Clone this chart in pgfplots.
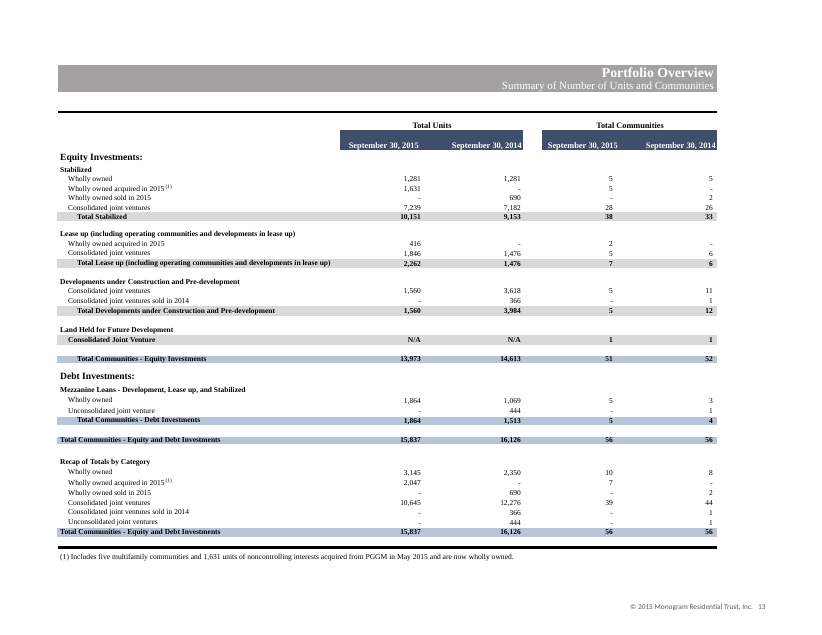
\documentclass[border=0pt]{standalone}
\usepackage{pgfplots}
\pgfplotsset{compat=1.18}
\usepackage{pgfplotstable}
\usepackage{fontspec}
\setmainfont{Liberation Serif}
\newfontfamily\carlito{Carlito}
\definecolor{titlegray}{HTML}{A3A1A1}
\definecolor{hdrblue}{HTML}{3E4E6B}
\definecolor{bandgray}{HTML}{D9D9D9}
\definecolor{bandblue}{HTML}{B6C5D8}
\definecolor{footgray}{HTML}{595959}

% ---- row labels (x = left edge, y = row centre, in pixels from the top) ----
\pgfplotstableread{
x y label
68 179 {Wholly owned}
68 189 {Wholly owned acquired in 2015\,\textsuperscript{(1)}}
68 198 {Wholly owned sold in 2015}
68 208 {Consolidated joint ventures}
68 244 {Wholly owned acquired in 2015}
68 253.7 {Consolidated joint ventures}
68 291 {Consolidated joint ventures}
68 301 {Consolidated joint ventures sold in 2014}
68 400.7 {Wholly owned}
68 411 {Unconsolidated joint venture}
68 472.7 {Wholly owned}
68 483.3 {Wholly owned acquired in 2015\,\textsuperscript{(1)}}
68 493.3 {Wholly owned sold in 2015}
68 503 {Consolidated joint ventures}
68 512.7 {Consolidated joint ventures sold in 2014}
68 522.7 {Unconsolidated joint ventures}
}\labreg
\pgfplotstableread{
x y label
60 170 {Stabilized}
60 234 {Lease up (including operating communities and developments in lease up)}
60 282 {Developments under Construction and Pre-development}
60 330 {Land Held for Future Development}
60 390 {Mezzanine Loans - Development, Lease up, and Stabilized}
60 440 {Total Communities - Equity and Debt Investments}
60 462.7 {Recap of Totals by Category}
60 532.3 {Total Communities - Equity and Debt Investments}
68 340 {Consolidated Joint Venture}
77 217 {Total Stabilized}
77 263.7 {Total Lease up (including operating communities and developments in lease up)}
77 311 {Total Developments under Construction and Pre-development}
77 359 {Total Communities - Equity Investments}
77 420.7 {Total Communities - Debt Investments}
}\labbold
\pgfplotstableread{
x y label
60 158 {Equity Investments:}
60 377.7 {Debt Investments:}
}\labbig

% ---- values: units 2015, units 2014, communities 2015, communities 2014 ----
\pgfplotstableread{
y u15 u14 c15 c14
179 1,281 1,281 5 5
189 1,631 - 5 -
198 - 690 - 2
208 7,239 7,182 28 26
244 416 - 2 -
253.7 1,846 1,476 5 6
291 1,560 3,618 5 11
301 - 366 - 1
400.7 1,864 1,069 5 3
411 - 444 - 1
472.7 3,145 2,350 10 8
483.3 2,047 - 7 -
493.3 - 690 - 2
503 10,645 12,276 39 44
512.7 - 366 - 1
522.7 - 444 - 1
}\valreg
\pgfplotstableread{
y u15 u14 c15 c14
217 10,151 9,153 38 33
263.7 2,262 1,476 7 6
311 1,560 3,984 5 12
340 N/A N/A 1 1
359 13,973 14,613 51 52
420.7 1,864 1,513 5 4
440 15,837 16,126 56 56
532.3 15,837 16,126 56 56
}\valbold

\pgfplotsset{
  txtl/.style={only marks, mark=none, point meta=explicit symbolic,
    nodes near coords={\pgfplotspointmeta},
    every node near coord/.append style={anchor=base west, inner sep=0pt, yshift=-2.1bp, text=black, font=#1}},
  txtr/.style={only marks, mark=none, point meta=explicit symbolic,
    nodes near coords={\pgfplotspointmeta},
    every node near coord/.append style={anchor=base east, inner sep=0pt, yshift=-2.4bp, text=black, font=#1}},
  box/.style={draw=none, fill=#1, mark=none},
}

\begin{document}
\begin{tikzpicture}
\begin{axis}[
  scale only axis, width=822bp, height=635bp,
  xmin=0, xmax=822, ymin=0, ymax=635, y dir=reverse,
  enlargelimits=false, hide axis, clip=false,
]
% background and shaded bands
\addplot[box=white] coordinates {(0,0) (822,0) (822,635) (0,635)};
\addplot[box=titlegray] coordinates {(58,65) (717,65) (717,92) (58,92)};
\addplot[box=hdrblue] coordinates {(340,130) (523,130) (523,150) (340,150)};
\addplot[box=hdrblue] coordinates {(542,130) (717,130) (717,150) (542,150)};
\addplot[box=bandgray] coordinates {(57,212.3) (717,212.3) (717,221.3) (57,221.3)};
\addplot[box=bandgray] coordinates {(57,259) (717,259) (717,268.3) (57,268.3)};
\addplot[box=bandgray] coordinates {(57,306) (717,306) (717,315.7) (57,315.7)};
\addplot[box=bandgray] coordinates {(57,335.3) (717,335.3) (717,344.7) (57,344.7)};
\addplot[box=bandblue] coordinates {(57,355.7) (717,355.7) (717,363.3) (57,363.3)};
\addplot[box=bandblue] coordinates {(57,416.7) (717,416.7) (717,425) (57,425)};
\addplot[box=bandblue] coordinates {(57,436.7) (717,436.7) (717,444.3) (57,444.3)};
\addplot[box=bandblue] coordinates {(57,527.7) (717,527.7) (717,537.3) (57,537.3)};
% rules
\addplot[black, line width=1.6bp, mark=none] coordinates {(58,112) (717,112)};
\addplot[black, line width=2.4bp, mark=none] coordinates {(58,547.3) (717,547.3)};

% row labels
\addplot[txtl={\fontsize{7.5}{9}\selectfont}] table[x=x, y=y, meta=label] {\labreg};
\addplot[txtl={\fontsize{7.5}{9}\selectfont\bfseries}] table[x=x, y=y, meta=label] {\labbold};
\addplot[txtl={\fontsize{9.6}{11}\selectfont\bfseries}] table[x=x, y=y, meta=label] {\labbig};

% values
\addplot[txtr={\fontsize{7.5}{9}\selectfont}] table[x expr=421, y=y, meta=u15] {\valreg};
\addplot[txtr={\fontsize{7.5}{9}\selectfont}] table[x expr=521, y=y, meta=u14] {\valreg};
\addplot[txtr={\fontsize{7.5}{9}\selectfont}] table[x expr=613, y=y, meta=c15] {\valreg};
\addplot[txtr={\fontsize{7.5}{9}\selectfont}] table[x expr=713, y=y, meta=c14] {\valreg};
\addplot[txtr={\fontsize{7.5}{9}\selectfont\bfseries}] table[x expr=421, y=y, meta=u15] {\valbold};
\addplot[txtr={\fontsize{7.5}{9}\selectfont\bfseries}] table[x expr=521, y=y, meta=u14] {\valbold};
\addplot[txtr={\fontsize{7.5}{9}\selectfont\bfseries}] table[x expr=613, y=y, meta=c15] {\valbold};
\addplot[txtr={\fontsize{7.5}{9}\selectfont\bfseries}] table[x expr=713, y=y, meta=c14] {\valbold};

% titles and headers
\node[anchor=base east, inner sep=0pt, text=white, font=\fontsize{13.8}{16}\selectfont\bfseries] at (axis cs:714,77.7) {Portfolio Overview};
\node[anchor=base east, inner sep=0pt, text=white, font=\fontsize{11}{13}\selectfont] at (axis cs:714,89.5) {Summary of Number of Units and Communities};
\node[anchor=base, inner sep=0pt, font=\fontsize{8.3}{10}\selectfont\bfseries] at (axis cs:432,128.3) {Total Units};
\node[anchor=base, inner sep=0pt, font=\fontsize{8.3}{10}\selectfont\bfseries] at (axis cs:630,128.3) {Total Communities};
\node[anchor=base east, inner sep=0pt, text=white, font=\fontsize{8.4}{10}\selectfont\bfseries] at (axis cs:419,148.5) {September 30, 2015};
\node[anchor=base east, inner sep=0pt, text=white, font=\fontsize{8.4}{10}\selectfont\bfseries] at (axis cs:522,148.5) {September 30, 2014};
\node[anchor=base east, inner sep=0pt, text=white, font=\fontsize{8.4}{10}\selectfont\bfseries] at (axis cs:618,148.5) {September 30, 2015};
\node[anchor=base east, inner sep=0pt, text=white, font=\fontsize{8.4}{10}\selectfont\bfseries] at (axis cs:716,148.5) {September 30, 2014};
\node[anchor=base west, inner sep=0pt, font=\fontsize{7.6}{9}\selectfont] at (axis cs:60,559.6) {(1) Includes five multifamily communities and 1,631 units of noncontrolling interests acquired from PGGM in May 2015 and are now wholly owned.};
\node[anchor=base west, inner sep=0pt, text=footgray, font=\carlito\fontsize{7.4}{9}\selectfont] at (axis cs:630,609.5) {\textcopyright\ 2015 Monogram Residential Trust, Inc.\ \ \ 13};
\end{axis}
\end{tikzpicture}
\end{document}
